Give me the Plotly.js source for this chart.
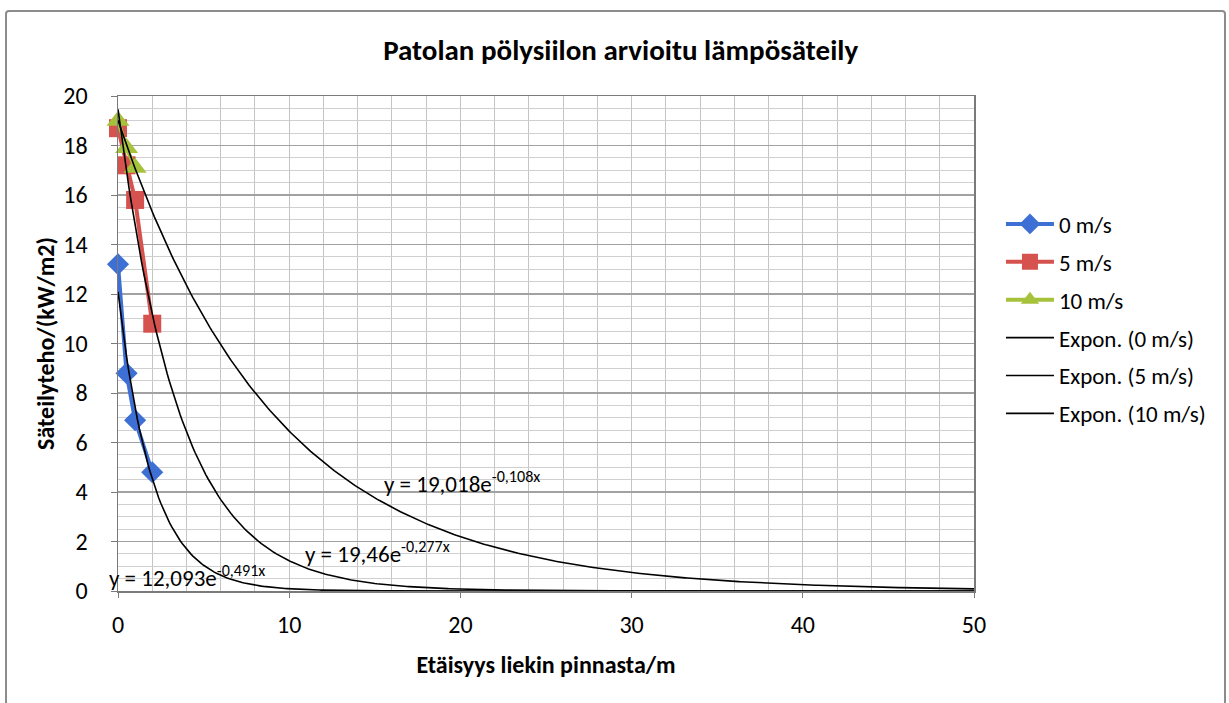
<!DOCTYPE html>
<html>
<head>
<meta charset="utf-8">
<script src="https://cdn.plot.ly/plotly-3.0.1.min.js"></script>
<style>
  html, body { margin: 0; padding: 0; background: #fff; }
  #wrap { position: relative; width: 1229px; height: 703px; }
  #chart { position: absolute; left: 0; top: 0; width: 1229px; height: 703px; }
  #frame { position: absolute; left: 5px; top: 10px; width: 1217px; height: 700px;
           border: 2px solid #8c8c8c; border-radius: 4px; pointer-events: none; }
</style>
</head>
<body>
<div id="wrap">
  <div id="chart"></div>
  <div id="frame"></div>
</div>
<script>
// ---- data ----
const x0 = [0, 0.5, 1, 2];
const y0 = [13.2, 8.8, 6.9, 4.8];
const x5 = [0, 0.5, 1, 2];
const y5 = [18.7, 17.2, 15.8, 10.8];
const x10 = [0, 0.5, 1];
const y10 = [19.0, 17.9, 17.1];

const seriesNames = ["0 m/s", "5 m/s", "10 m/s"];
const trendNames = ["Expon. (0 m/s)", "Expon. (5 m/s)", "Expon. (10 m/s)"];
// Excel exponential trendline coefficients shown on the chart: y = a*e^(b*x)
const trendA = [12.093, 19.46, 19.018];
const trendB = [-0.491, -0.277, -0.108];
const trendLabels = ["y = 12,093e<sup>-0,491x</sup>", "y = 19,46e<sup>-0,277x</sup>", "y = 19,018e<sup>-0,108x</sup>"];
const labelX = [0, 10.8, 15.4];
const labelY = [0.6, 1.55, 4.4];

const xTicks = [0, 10, 20, 30, 40, 50];
const yTicks = [0, 2, 4, 6, 8, 10, 12, 14, 16, 18, 20];

// trendline sample positions (forecast to x = 50, like the Excel chart)
const trendX = [];
for (let i = 0; i <= 400; i++) trendX.push(i * 0.125);

const FONT = "Carlito, Lato, 'Open Sans', sans-serif";
const colors = ["#3d6fd4", "#d6524e", "#a6c23a"];

const traces = [];
const xs = [x0, x5, x10], ys = [y0, y5, y10];
const syms = ["diamond", "square", "triangle-up"];
const sizes = [17, 18, 20];
for (let k = 0; k < 3; k++) {
  traces.push({
    x: xs[k], y: ys[k], name: seriesNames[k], type: "scatter", mode: "lines+markers",
    line: { color: colors[k], width: 4 },
    marker: { symbol: syms[k], size: sizes[k], color: colors[k] },
    legendgroup: "g" + k, cliponaxis: false
  });
}
for (let k = 0; k < 3; k++) {
  traces.push({
    x: trendX, y: trendX.map(v => trendA[k] * Math.exp(trendB[k] * v)),
    name: trendNames[k], type: "scatter", mode: "lines",
    line: { color: "#000", width: 1.6 },
    legendgroup: "t" + k, hoverinfo: "skip"
  });
}

const labelShift = [-11, 0, 0];
const annotations = trendLabels.map((t, k) => ({
  x: labelX[k], y: labelY[k], xref: "x", yref: "y", text: t, showarrow: false,
  xshift: labelShift[k],
  xanchor: "left", yanchor: "middle", font: { family: FONT, size: 23, color: "#000" }
}));

const layout = {
  width: 1229, height: 703,
  margin: { l: 118, r: 255, t: 96, b: 112 },
  paper_bgcolor: "rgba(0,0,0,0)", plot_bgcolor: "#fff",
  font: { family: FONT, color: "#000" },
  title: { text: "<b>Patolan pölysiilon arvioitu lämpösäteily</b>", x: 0.505, xref: "container",
           y: 1 - 50 / 703, yref: "container", yanchor: "middle",
           font: { family: FONT, size: 29, color: "#000" } },
  xaxis: {
    range: [0, 50], tickvals: xTicks, ticktext: xTicks.map(String),
    showgrid: true, gridcolor: "#c4c4c4", gridwidth: 1,
    minor: { dtick: 2, showgrid: true, gridcolor: "#c4c4c4", gridwidth: 1 },
    showline: true, linecolor: "#7a7a7a", linewidth: 1.5, mirror: true,
    ticks: "outside", ticklen: 5, tickcolor: "#7a7a7a",
    zeroline: false, ticklabelstandoff: 7,
    tickfont: { family: FONT, size: 24, color: "#000" },
    title: { text: "<b>Etäisyys liekin pinnasta/m</b>", standoff: 18,
             font: { family: FONT, size: 24, color: "#000" } }
  },
  yaxis: {
    range: [0, 20], tickvals: yTicks, ticktext: yTicks.map(String),
    showgrid: true, gridcolor: "#a2a2a2", gridwidth: 1.2,
    minor: { dtick: 0.5, showgrid: true, gridcolor: "#d0d0d0", gridwidth: 1 },
    showline: true, linecolor: "#7a7a7a", linewidth: 1.5, mirror: true,
    ticks: "outside", ticklen: 6, tickcolor: "#7a7a7a",
    zeroline: false, ticklabelstandoff: 18,
    tickfont: { family: FONT, size: 24, color: "#000" },
    title: { text: "<b>Säteilyteho/(kW/m2)</b>", standoff: 2,
             font: { family: FONT, size: 24, color: "#000" } }
  },
  legend: {
    x: 1.0315, y: 0.785, xanchor: "left", yanchor: "top",
    bgcolor: "rgba(0,0,0,0)", borderwidth: 0,
    font: { family: FONT, size: 23, color: "#000" },
    tracegroupgap: 5, itemwidth: 48
  },
  annotations: annotations,
  showlegend: true
};

Plotly.newPlot("chart", traces, layout, { displayModeBar: false, staticPlot: true });
</script>
</body>
</html>
